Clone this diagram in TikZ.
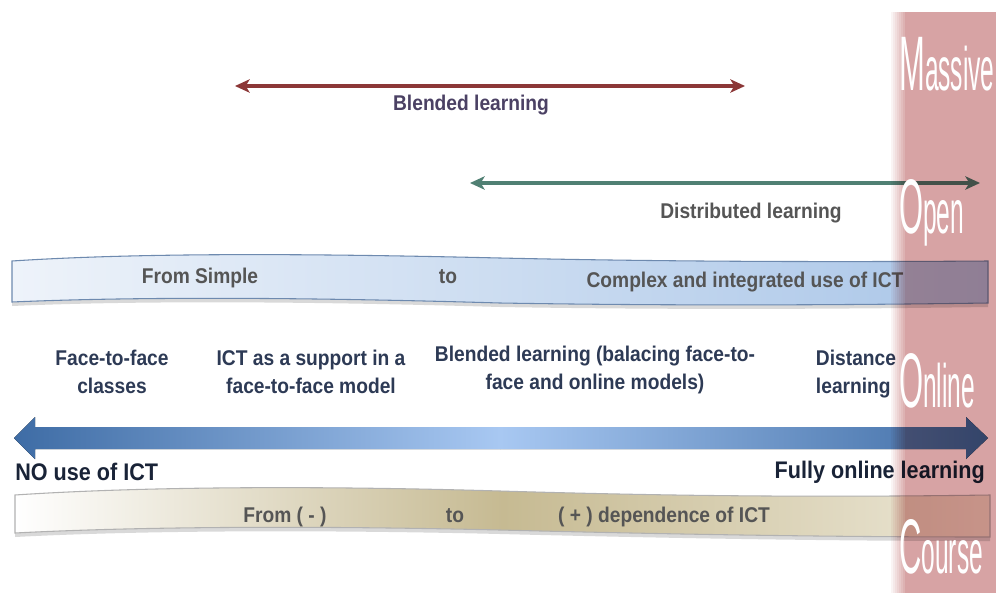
\documentclass[tikz,border=0pt]{standalone}
\usepackage{fontspec}
\setmainfont{Liberation Sans}[FakeStretch=0.9]
\newfontfamily\moocfont{Liberation Sans}[FakeStretch=0.4]
\usetikzlibrary{arrows.meta}
\definecolor{moocpink}{RGB}{215,163,164}
\definecolor{arrowdark}{RGB}{62,108,165}
\definecolor{arrowlight}{RGB}{168,200,242}
\definecolor{blendred}{RGB}{140,55,55}
\definecolor{distgreen}{RGB}{80,128,115}
\definecolor{labelnavy}{RGB}{45,58,85}
\definecolor{endnavy}{RGB}{25,35,55}
\definecolor{bannergrey}{RGB}{85,85,85}
\definecolor{blendlabel}{RGB}{75,65,100}
\definecolor{simpleblue}{RGB}{238,243,250}
\definecolor{complexblue}{RGB}{170,198,232}
\definecolor{bannerline}{RGB}{110,138,175}
\definecolor{tanmid}{RGB}{198,186,146}
\definecolor{tanend}{RGB}{236,231,214}
\def\labelsize{\fontsize{16}{21}\selectfont\bfseries}
\def\endsize{\fontsize{18}{22}\selectfont\bfseries}
\def\bigletter{\fontsize{58}{58}\selectfont\moocfont}
\def\smallletters{\fontsize{46}{46}\selectfont\moocfont}

\begin{document}
\begin{tikzpicture}[x=0.75pt,y=-0.75pt]
    \tikzstyle{range arrow}=[line width=2.4pt,{Stealth[length=11pt,width=10pt,inset=3pt]}-{Stealth[length=11pt,width=10pt,inset=3pt]}]
    \tikzstyle{range label}=[inner sep=0pt,anchor=base,font=\labelsize]
    \tikzstyle{banner text}=[inner sep=0pt,anchor=base,font=\labelsize,text=bannergrey]
    \tikzstyle{model}=[inner sep=0pt,align=center,font=\labelsize,text=labelnavy]
    \tikzstyle{end label}=[inner sep=0pt,font=\endsize,text=endnavy]
    \tikzstyle{mooc word}=[inner sep=0pt,anchor=base west,text=white]

    \useasboundingbox (0,0) rectangle (996,593);
    \fill[white] (0,0) rectangle (996,593);

    % Draw the ranges at the top
    \coordinate (bl-l) at (235,86);
    \coordinate (bl-r) at (745,86);
    \draw[range arrow,blendred] (bl-l) -- (bl-r);
    \node[range label,text=blendlabel] (bl-text) at (471,110) {Blended learning};

    \coordinate (dl-l) at (470,183);
    \coordinate (dl-r) at (980,183);
    \draw[range arrow,distgreen] (dl-l) -- (dl-r);
    \node[range label,text=bannergrey] (dl-text) at (751,218) {Distributed learning};

    % Draw the use of ICT banner
    \fill[black,opacity=0.15,yshift=-3pt]
        (12,261) .. controls (150,252) and (330,254) .. (500,258)
        .. controls (680,262) and (850,262) .. (988,261) -- (988,303)
        .. controls (850,305) and (680,306) .. (500,303)
        .. controls (330,298) and (150,296) .. (12,302) -- cycle;
    \draw[bannerline,line width=0.8pt,left color=simpleblue,right color=complexblue]
        (12,261) .. controls (150,252) and (330,254) .. (500,258)
        .. controls (680,262) and (850,262) .. (988,261) -- (988,303)
        .. controls (850,305) and (680,306) .. (500,303)
        .. controls (330,298) and (150,296) .. (12,302) -- cycle;
    \node[banner text] (simple) at (200,283) {From Simple};
    \node[banner text] (to-1) at (448,283) {to};
    \node[banner text] (complex) at (745,287) {Complex and integrated use of ICT};

    % Draw the models
    \node[model] (m-1) at (112,372) {Face-to-face\\classes};
    \node[model] (m-2) at (311,372) {ICT as a support in a\\face-to-face model};
    \node[model] (m-3) at (595,370) {Blended learning (balacing face-to-\\face and online models)};
    \node[model,align=left] (m-4) at (856,374) {Distance\\learning};

    % Draw the big arrow
    \fill[left color=arrowdark,right color=arrowlight]
        (14,438) -- (35,417) -- (35,427) -- (500,427) -- (500,449)
        -- (35,449) -- (35,459) -- cycle;
    \fill[left color=arrowlight,right color=arrowdark]
        (500,427) -- (966,427) -- (966,417) -- (988,438) -- (966,459)
        -- (966,449) -- (500,449) -- cycle;
    \node[end label,anchor=base west] (no-ict) at (15,480) {NO use of ICT};
    \node[end label,anchor=base east] (online) at (985,478) {Fully online learning};

    % Draw the dependence banner
    \fill[black,opacity=0.15,yshift=-3pt]
        (15,495) .. controls (150,486) and (330,486) .. (500,491)
        .. controls (700,497) and (850,497) .. (990,495) -- (990,537)
        .. controls (850,537) and (700,535) .. (500,530)
        .. controls (330,526) and (150,526) .. (15,533) -- cycle;
    \draw[black!30,line width=0.8pt,left color=white,right color=tanend,middle color=tanmid]
        (15,495) .. controls (150,486) and (330,486) .. (500,491)
        .. controls (700,497) and (850,497) .. (990,495) -- (990,537)
        .. controls (850,537) and (700,535) .. (500,530)
        .. controls (330,526) and (150,526) .. (15,533) -- cycle;
    \node[banner text] (minus) at (285,522) {From ( - )};
    \node[banner text] (to-2) at (455,522) {to};
    \node[banner text] (plus) at (664,522) {( + ) dependence of ICT};

    % Draw the MOOC band
    \begin{scope}[blend mode=multiply]
        \foreach \i in {1,...,7}
            \fill[moocpink!\the\numexpr\i*12\relax!white] (889+2*\i,12) rectangle (891+2*\i,593);
        \fill[moocpink] (905,12) rectangle (996,593);
    \end{scope}
    \foreach \name/\first/\rest/\y in {massive/M/assive/90,open/O/pen/233,online/O/nline/407,course/C/ourse/573}
        \node[mooc word] (w-\name) at (899,\y) {\bigletter\first\smallletters\rest};
\end{tikzpicture}
\end{document}
